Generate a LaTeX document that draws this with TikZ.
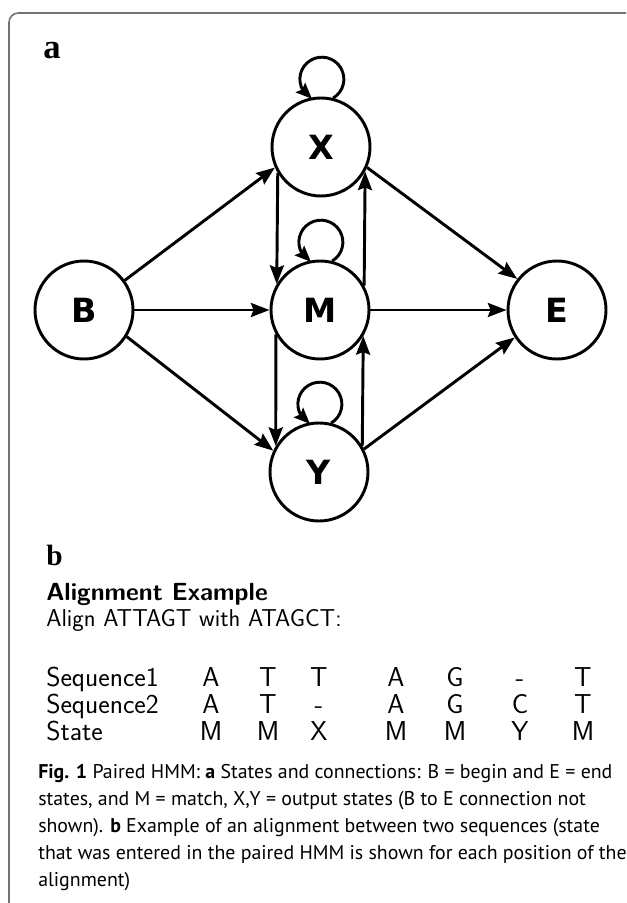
\documentclass[tikz,border=0pt]{standalone}
\usepackage{fontspec}
\newfontfamily\panelfont{Liberation Serif}
\newfontfamily\capfont{PT Sans}
\newfontfamily\statefont{DejaVu Sans}
\usetikzlibrary{arrows.meta,bending}
\begin{document}
\begin{tikzpicture}[x=0.75pt,y=-0.75pt,
  state/.style={circle,draw,line width=2.2pt,minimum size=73.5pt,inner sep=0pt,
    font=\statefont\bfseries\fontsize{25}{25}\selectfont},
  edge/.style={line width=2.2pt,-{Stealth[length=14pt,width=10.5pt,inset=2pt]}},
  loopedge/.style={line width=2.2pt,-{Stealth[length=12pt,width=10pt,inset=2pt,flex]}},
  panel/.style={anchor=base west,inner sep=0pt,font=\panelfont\bfseries\fontsize{22}{22}\selectfont},
  seqtext/.style={anchor=base west,inner sep=0pt,font=\sffamily\fontsize{18.3}{18.3}\selectfont},
  seqhead/.style={anchor=base west,inner sep=0pt,font=\sffamily\bfseries\fontsize{18.6}{18.6}\selectfont},
  rowtext/.style={anchor=base west,inner sep=0pt,font=\sffamily\fontsize{20.5}{20.5}\selectfont},
  cell/.style={anchor=base,inner sep=0pt,font=\sffamily\fontsize{20.5}{20.5}\selectfont},
  capline/.style={anchor=base west,inner sep=0pt,font=\capfont\fontsize{14.9}{14.9}\selectfont},
  frameline/.style={draw=black!55,line width=1.2pt,rounded corners=7pt}]
\useasboundingbox (0,0) rectangle (626,903);
\draw[frameline] (9,903) -- (9,13) -- (626,13);

% panel a
\node[panel,font=\panelfont\bfseries\fontsize{26}{26}\selectfont] (pa) at (43,58) {a};
\node[state] (X) at (321,147) {X};
\node[state] (B) at (84,310) {B};
\node[state] (M) at (320,310) {M};
\node[state] (E) at (557,310) {E};
\node[state] (Y) at (319,472) {Y};

\draw[loopedge] (X.76) arc[start angle=-59, end angle=243, radius=16.5pt];
\draw[loopedge] (M.76) arc[start angle=-59, end angle=243, radius=16.5pt];
\draw[loopedge] (Y.76) arc[start angle=-59, end angle=243, radius=16.5pt];

\draw[edge] (B.36) -- (X.204);
\draw[edge] (B.east) -- (M.west);
\draw[edge] (B.-32) -- (Y.155);
\draw[edge] (X.211) -- (M.149);
\draw[edge] (M.29) -- (X.331);
\draw[edge] (M.209) -- (Y.149);
\draw[edge] (Y.31) -- (M.329);
\draw[edge] (X.-24) -- (E.142);
\draw[edge] (M.east) -- (E.west);
\draw[edge] (Y.27) -- (E.213);

% panel b
\node[panel] (pb) at (46,565) {b};
\node[seqhead] (head) at (46,600) {Alignment Example};
\node[seqtext] (align) at (46,626) {Align ATTAGT with ATAGCT:};

\node[rowtext] (r1) at (46,686) {Sequence1};
\node[rowtext] (r2) at (46,713) {Sequence2};
\node[rowtext] (r3) at (46,740) {State};
\foreach \ch/\xx [count=\i] in {A/211,T/268,T/319,A/396,G/455,-/520,T/583}
  \node[cell] (s1\i) at (\xx,686) {\ch};
\foreach \ch/\xx [count=\i] in {A/211,T/268,-/319,A/396,G/455,C/520,T/583}
  \node[cell] (s2\i) at (\xx,713) {\ch};
\foreach \ch/\xx [count=\i] in {M/211,M/268,X/319,M/396,M/455,Y/520,M/583}
  \node[cell] (s3\i) at (\xx,740) {\ch};

% caption
\node[capline] (c1) at (38,778) {\textbf{Fig. 1} Paired HMM: \textbf{a} States and connections: B = begin and E = end};
\node[capline] (c2) at (38,805) {states, and M = match, X,Y = output states (B to E connection not};
\node[capline] (c3) at (38,832) {shown). \textbf{b} Example of an alignment between two sequences (state};
\node[capline] (c4) at (38,859) {that was entered in the paired HMM is shown for each position of the};
\node[capline] (c5) at (38,886) {alignment)};
\end{tikzpicture}
\end{document}
